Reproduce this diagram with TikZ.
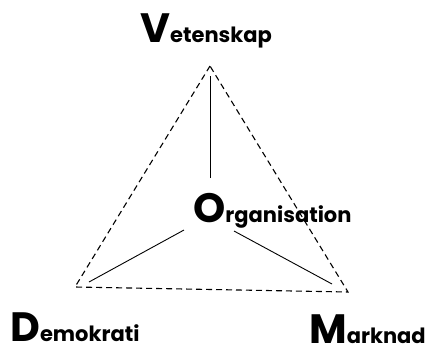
\documentclass[tikz,border=0pt]{standalone}
\usepackage{fontspec}
\setmainfont{Poppins}
\usetikzlibrary{positioning}
\newcommand{\bigletter}[1]{{\fontsize{41}{41}\selectfont #1}}
\tikzset{
  word/.style={anchor=base west, inner sep=0pt,
    font=\fontsize{21}{21}\selectfont\bfseries},
  side/.style={line width=1.1pt, dash pattern=on 6pt off 4pt},
  spoke/.style={line width=0.9pt}
}

\begin{document}
\begin{tikzpicture}[x=1pt, y=1pt]
    \useasboundingbox (0,0) rectangle (429,-349);

    % Corners of the dashed triangle.
    \coordinate (vtop) at (210,-66);
    \coordinate (vleft) at (75,-287);
    \coordinate (vright) at (348,-292);
    \draw[side] (vtop) -- (vleft) -- (vright) -- cycle;

    % The four labels.
    \node[word] (vet) at (140,-42) {\bigletter{V}etenskap};
    \node[word] (org) at (193,-222) {\bigletter{O}rganisation};
    \node[word] (dem) at (10,-341) {\bigletter{D}emokrati};
    \node[word] (mark) at (309,-343) {\bigletter{M}arknad};

    % Spokes from the centre towards the corners.
    \coordinate (hubtop) at (210,-178);
    \coordinate (hubleft) at (184,-230);
    \coordinate (hubright) at (234,-231);
    \coordinate (endtop) at (210,-76);
    \coordinate (endleft) at (89,-282);
    \coordinate (endright) at (332,-284);
    \draw[spoke] (hubtop) -- (endtop);
    \draw[spoke] (hubleft) -- (endleft);
    \draw[spoke] (hubright) -- (endright);
  \end{tikzpicture}
\end{document}
